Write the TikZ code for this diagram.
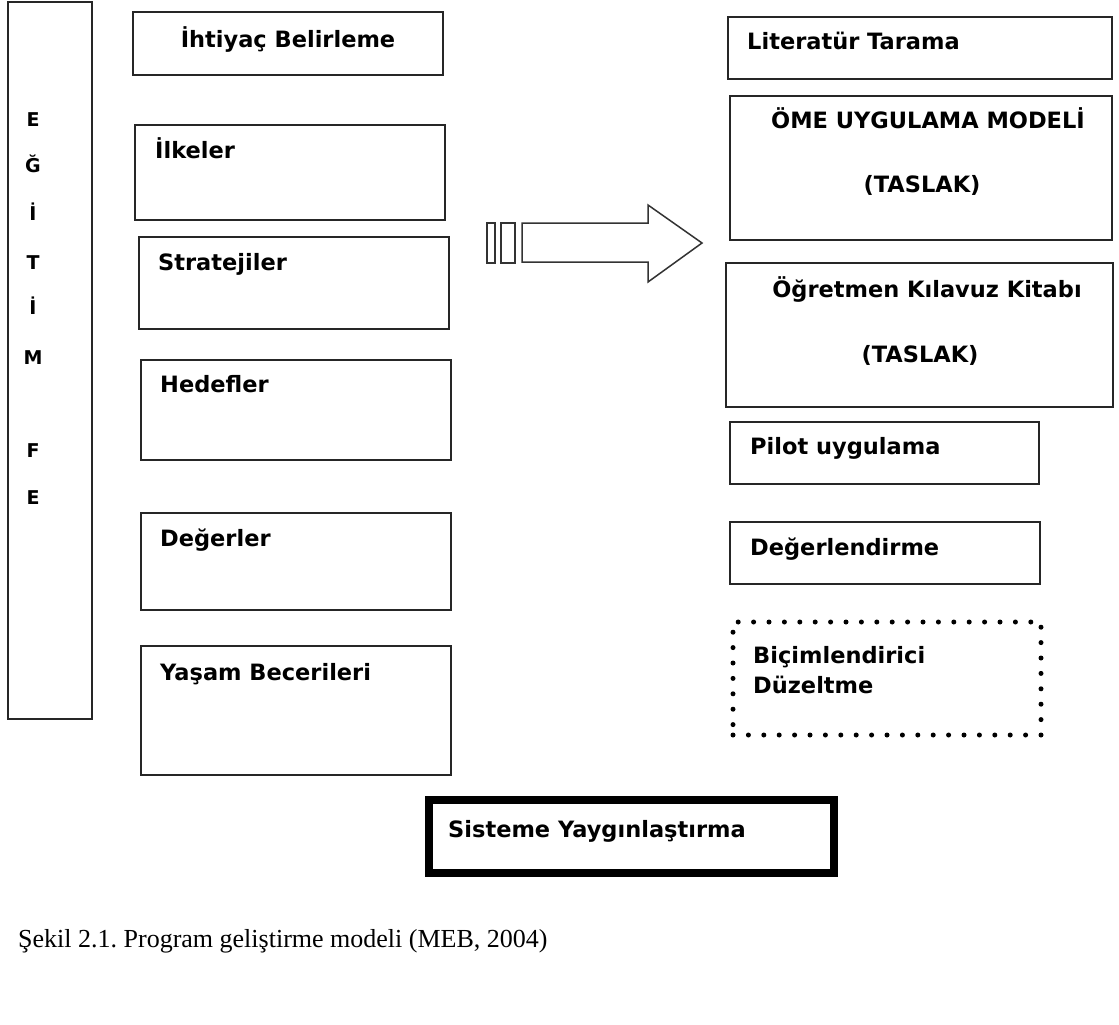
\documentclass[tikz,border=0pt]{standalone}
\usepackage{fontspec}
\setmainfont{DejaVu Sans}
\newfontfamily\capfont{Liberation Serif}
\frenchspacing
\tikzset{
  box/.style={draw=black!85, line width=1.6pt, rectangle, inner sep=0pt, outer sep=0pt},
  dotbox/.style={draw=black, line width=5pt, line cap=round, dash pattern=on 0pt off 15.4pt, rectangle, inner sep=0pt, outer sep=0pt},
  thickbox/.style={draw=black, line width=8pt, rectangle, inner sep=0pt, outer sep=0pt},
  lbl/.style={inner sep=0pt, anchor=base west, font=\fontsize{22.5}{26}\selectfont\bfseries},
  clbl/.style={inner sep=0pt, anchor=base, font=\fontsize{22.5}{26}\selectfont\bfseries},
  letter/.style={inner sep=0pt, anchor=base, font=\fontsize{19}{22}\selectfont\bfseries},
  arrowshape/.style={draw=black!80, line width=1.5pt, fill=white, line join=miter}
}
\newcommand\mybox[6]{\node[#6, minimum width={(#4-#2)*1pt}, minimum height={(#5-#3)*1pt}] (#1) at ({(#2+#4)/2},{(#3+#5)/2}) {};}
\begin{document}
\begin{tikzpicture}[x=1pt,y=-1pt]
\useasboundingbox[fill=white] (0,0) rectangle (1119,1025);
% left column
\mybox{egitim}{8}{2}{92}{719}{box}
\mybox{ihtiyac}{133}{12}{443}{75}{box}
\mybox{ilkeler}{135}{125}{445}{220}{box}
\mybox{strat}{139}{237}{449}{329}{box}
\mybox{hedef}{141}{360}{451}{460}{box}
\mybox{deger}{141}{513}{451}{610}{box}
\mybox{yasam}{141}{646}{451}{775}{box}
% right column
\mybox{lit}{728}{17}{1112}{79}{box}
\mybox{ome}{730}{96}{1112}{240}{box}
\mybox{ogret}{726}{263}{1113}{407}{box}
\mybox{pilot}{730}{422}{1039}{484}{box}
\mybox{degerl}{730}{522}{1040}{584}{box}
\mybox{bicim}{733}{622}{1041}{735}{dotbox}
\mybox{sistem}{428.5}{799.5}{834}{873}{thickbox}
% vertical letters
\node[letter] (l1) at (33,126) {E};
\node[letter] (l2) at (33,172) {Ğ};
\node[letter] (l3) at (33,220) {İ};
\node[letter] (l4) at (33,269) {T};
\node[letter] (l5) at (33,314) {İ};
\node[letter] (l6) at (33,364) {M};
\node[letter] (l7) at (33,457) {F};
\node[letter] (l8) at (33,504) {E};
% left texts
\node[clbl] (tihtiyac) at (288,48) {İhtiyaç Belirleme};
\node[lbl] (tilkeler) at (155,158) {İlkeler};
\node[lbl] (tstrat) at (158,270) {Stratejiler};
\node[lbl] (thedef) at (160,392) {Hedefler};
\node[lbl] (tdeger) at (160,546) {Değerler};
\node[lbl] (tyasam) at (160,680) {Yaşam Becerileri};
% right texts
\node[lbl] (tlit) at (747,50) {Literatür Tarama};
\node[clbl] (tome) at (928,128) {ÖME UYGULAMA MODELİ};
\node[clbl] (tomet) at (922,192) {(TASLAK)};
\node[clbl] (togret) at (927,297) {Öğretmen Kılavuz Kitabı};
\node[clbl] (togrett) at (920,362) {(TASLAK)};
\node[lbl] (tpilot) at (750,454) {Pilot uygulama};
\node[lbl] (tdegerl) at (750,555) {Değerlendirme};
\node[lbl] (tbicim1) at (753,663) {Biçimlendirici};
\node[lbl] (tbicim2) at (753,693) {Düzeltme};
\node[lbl] (tsistem) at (448,837) {Sisteme Yaygınlaştırma};
% block arrow
\draw[arrowshape] (487,223) rectangle (495,263);
\draw[arrowshape] (501,223) rectangle (515,263);
\draw[arrowshape] (522,223) -- (648,223) -- (648,205) -- (702,243) -- (648,282) -- (648,262) -- (522,262) -- cycle;
% caption
\node[inner sep=0pt, anchor=base west, font=\capfont\fontsize{26}{30}\selectfont] (caption) at (18,947) {Şekil 2.1. Program geliştirme modeli (MEB, 2004)};
\end{tikzpicture}
\end{document}
